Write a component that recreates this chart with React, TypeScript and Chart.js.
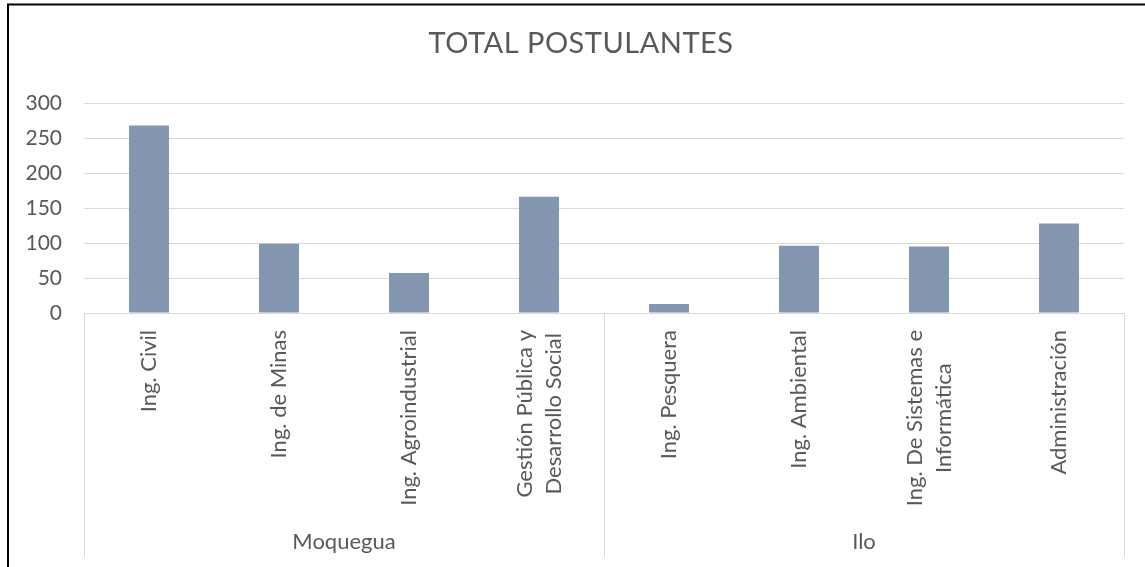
import React, { useEffect, useRef } from "react";
import { Chart, registerables } from "chart.js";

Chart.register(...registerables);

const chartTitle = "TOTAL POSTULANTES";
const groupNames = ["Moquegua", "Ilo"];
const groupSizes = [4, 4];
const categoryLabels: string[][] = [
  ["Ing. Civil"],
  ["Ing. de Minas"],
  ["Ing. Agroindustrial"],
  ["Gestión Pública y", "Desarrollo Social"],
  ["Ing. Pesquera"],
  ["Ing. Ambiental"],
  ["Ing. De Sistemas e", "Informática"],
  ["Administración"],
];
const postulantes = [268, 99, 57, 166, 13, 96, 95, 128];
const yMin = 0;
const yMax = 300;
const yStep = 50;

const TEXT = "#595959";
const GRID = "#D9D9D9";
const BAR = "#8497B0";
const FONT = "Lato, 'Open Sans', sans-serif";

const decorPlugin = {
  id: "decor",
  afterDraw(chart: any) {
    const { ctx, chartArea, scales } = chart;
    const x = scales.x;
    ctx.save();
    // outer frame (top and left)
    ctx.strokeStyle = "#000";
    ctx.lineWidth = 2;
    ctx.beginPath();
    ctx.moveTo(8, chart.height);
    ctx.lineTo(8, 4.5);
    ctx.lineTo(chart.width, 4.5);
    ctx.stroke();

    // title
    ctx.fillStyle = TEXT;
    ctx.font = `400 29px ${FONT}`;
    try {
      (ctx as any).letterSpacing = "0.5px";
    } catch (e) {}
    ctx.textAlign = "center";
    ctx.textBaseline = "alphabetic";
    ctx.fillText(chartTitle, 581, 53);
    try {
      (ctx as any).letterSpacing = "0px";
    } catch (e) {}

    // category labels (rotated, multi-line centred)
    ctx.font = `22px ${FONT}`;
    const lineH = 29;
    categoryLabels.forEach((lines, i) => {
      const px = x.getPixelForValue(i);
      ctx.save();
      ctx.translate(px, chartArea.bottom + 17);
      ctx.rotate(-Math.PI / 2);
      const maxW = Math.max(...lines.map((l) => ctx.measureText(l).width));
      ctx.textAlign = "center";
      ctx.textBaseline = "middle";
      lines.forEach((l, j) => {
        ctx.fillText(l, -maxW / 2, (j - (lines.length - 1) / 2) * lineH);
      });
      ctx.restore();
    });

    // group separators and names
    const catW = x.getPixelForValue(1) - x.getPixelForValue(0);
    const sepBottom = chart.height - 10;
    ctx.strokeStyle = GRID;
    ctx.lineWidth = 1;
    let start = 0;
    const edges: number[] = [x.getPixelForValue(0) - catW / 2];
    groupSizes.forEach((n) => {
      edges.push(x.getPixelForValue(start + n - 1) + catW / 2);
      start += n;
    });
    edges.forEach((ex) => {
      const xx = Math.round(ex) + 0.5;
      ctx.beginPath();
      ctx.moveTo(xx, chartArea.bottom);
      ctx.lineTo(xx, sepBottom);
      ctx.stroke();
    });
    ctx.fillStyle = TEXT;
    ctx.font = `22px ${FONT}`;
    ctx.textAlign = "center";
    ctx.textBaseline = "alphabetic";
    groupNames.forEach((g, k) => {
      ctx.fillText(g, (edges[k] + edges[k + 1]) / 2, 549);
    });
    ctx.restore();
  },
};

export default function App() {
  const ref = useRef<HTMLCanvasElement>(null);
  useEffect(() => {
    if (!ref.current) return;
    const chart = new Chart(ref.current, {
      type: "bar",
      data: {
        labels: categoryLabels.map((l) => l.join(" ")),
        datasets: [
          {
            label: chartTitle,
            data: postulantes,
            backgroundColor: BAR,
            borderWidth: 0,
            categoryPercentage: 1,
            barPercentage: 0.3077,
          },
        ],
      },
      options: {
        animation: false,
        responsive: true,
        maintainAspectRatio: false,
        layout: { padding: { left: 0, right: 21, top: 103, bottom: 0 } },
        plugins: {
          legend: { display: false },
          title: { display: false },
          tooltip: { enabled: false },
        },
        scales: {
          x: {
            grid: { display: false },
            border: { display: false },
            ticks: { display: false },
            afterFit: (s: any) => {
              s.height = 254;
            },
          },
          y: {
            min: yMin,
            max: yMax,
            ticks: {
              stepSize: yStep,
              color: TEXT,
              font: { family: FONT, size: 21 },
              padding: 22,
            },
            grid: { color: GRID, lineWidth: 1, drawTicks: false },
            border: { display: false },
            afterFit: (s: any) => {
              s.width = 84;
            },
          },
        },
      },
      plugins: [decorPlugin],
    });
    return () => chart.destroy();
  }, []);
  return (
    <div style={{ position: "fixed", left: 0, top: 0, width: 1145, height: 567, background: "#fff" }}>
      <canvas ref={ref} />
    </div>
  );
}
